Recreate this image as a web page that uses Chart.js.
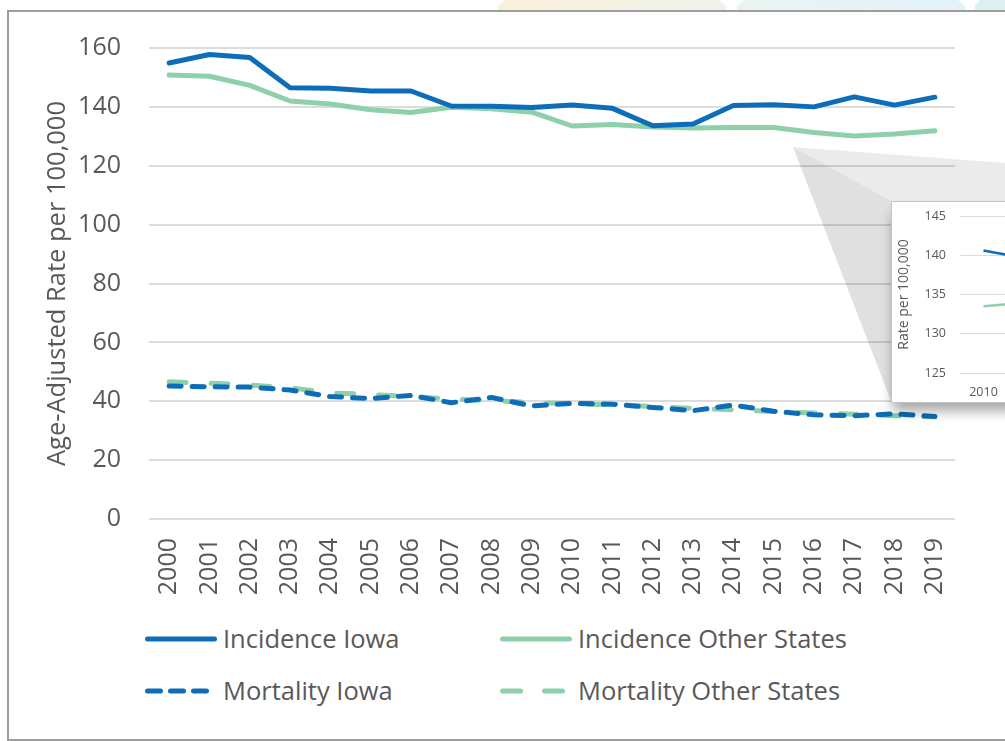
<!DOCTYPE html>
<html>
<head>
<meta charset="utf-8">
<script src="https://cdn.jsdelivr.net/npm/chart.js@4.4.1/dist/chart.umd.min.js"></script>
<style>
html, body { margin: 0; padding: 0; }
body {
    width: 1005px; height: 741px; overflow: hidden; position: relative;
    background: #fff; font-family: "Open Sans", sans-serif; color: #595959;
}
.tab { position: absolute; top: 0; height: 10px; }
.frame {
    position: absolute; left: 7px; top: 10px; width: 1100px; height: 731px;
    border: 2px solid #9d9d9d; box-sizing: border-box;
}
#main-wrap { position: absolute; left: 0; top: 0; width: 1005px; height: 615px; }
.callout { position: absolute; left: 0; top: 0; width: 1005px; height: 741px; }
#zoom-box {
    position: absolute; left: 891px; top: 201px; width: 600px; height: 202px;
    box-sizing: border-box; border: 1px solid #c4c4c4; background: #fff;
    box-shadow: 0 10px 12px -2px rgba(0,0,0,0.35);
}
#zoom-box canvas { position: absolute; left: 0; top: 0; }
.legend-item {
    position: absolute; height: 36px; display: flex; align-items: center;
    font-size: 25.5px; line-height: 1; white-space: nowrap;
}
.legend-item svg { margin-right: 3px; }
</style>
</head>
<body>
<div class="tab" style="left:498px;width:228px;background:linear-gradient(90deg,#faf1da,#eef3ea);clip-path:polygon(3% 0,97% 0,100% 60%,100% 100%,0 100%,0 60%);"></div>
<div class="tab" style="left:737px;width:228px;background:linear-gradient(90deg,#e9f3f2,#e2f2f9);clip-path:polygon(3% 0,97% 0,100% 60%,100% 100%,0 100%,0 60%);"></div>
<div class="tab" style="left:975px;width:60px;background:#ddf0ef;clip-path:polygon(8% 0,100% 0,100% 100%,0 100%,0 60%);"></div>
<div class="frame"></div>

<div id="main-wrap"><canvas id="main" width="1005" height="615"></canvas></div>

<div class="callout" style="background:rgba(0,0,0,0.08);clip-path:polygon(793px 147px,1005px 163px,1005px 201px,891px 201px);"></div>
<div class="callout" style="background:rgba(0,0,0,0.12);clip-path:polygon(793px 147px,891px 201px,891px 401px);"></div>

<div id="zoom-box"><canvas id="inset" width="598" height="200"></canvas></div>

<div id="legend"></div>

<script>
const years = ['2000','2001','2002','2003','2004','2005','2006','2007','2008','2009',
               '2010','2011','2012','2013','2014','2015','2016','2017','2018','2019'];
const incidenceIowa  = [154.9, 157.8, 156.8, 146.5, 146.3, 145.4, 145.4, 140.3, 140.2, 139.8,
                        140.6, 139.5, 133.6, 134.2, 140.5, 140.7, 140.0, 143.4, 140.6, 143.3];
const incidenceOther = [150.8, 150.4, 147.3, 142.0, 141.0, 139.0, 138.1, 139.9, 139.4, 138.2,
                        133.5, 134.0, 133.2, 132.8, 133.0, 133.0, 131.3, 130.1, 130.8, 131.9];
const mortalityIowa  = [45.2, 44.9, 44.8, 43.8, 41.6, 40.9, 42.0, 39.5, 41.3, 38.4,
                        39.3, 39.0, 37.9, 36.8, 38.7, 36.6, 35.4, 35.1, 35.7, 34.8];
const mortalityOther = [46.6, 46.1, 45.5, 44.6, 42.8, 42.3, 41.6, 40.7, 40.2, 39.6,
                        39.1, 38.7, 38.2, 37.6, 37.1, 36.5, 36.0, 35.6, 35.1, 34.7];
const yTicks = [0, 20, 40, 60, 80, 100, 120, 140, 160];
const insetYears = years.slice(10);
const insetTicks = [125, 130, 135, 140, 145];

const blue = '#0d6db9';
const green = '#8ed0a9';
const grey = '#595959';
const font = 'Open Sans';

const series = [
    { label: 'Incidence Iowa', data: incidenceIowa, color: blue, dash: [] },
    { label: 'Incidence Other States', data: incidenceOther, color: green, dash: [] },
    { label: 'Mortality Iowa', data: mortalityIowa, color: blue, dash: [12, 11] },
    { label: 'Mortality Other States', data: mortalityOther, color: green, dash: [17, 25] }
];

// main chart
new Chart(document.querySelector('#main'), {
    type: 'line',
    data: {
        labels: years,
        datasets: series.map(s => ({
            label: s.label,
            data: s.data,
            borderColor: s.color,
            borderWidth: 5,
            borderDash: s.dash,
            borderCapStyle: 'round',
            borderJoinStyle: 'round',
            pointRadius: 0,
            tension: 0,
            fill: false
        }))
    },
    options: {
        responsive: false,
        animation: false,
        layout: { padding: { top: 48, right: 50, bottom: 16, left: 0 } },
        plugins: { legend: { display: false }, tooltip: { enabled: false } },
        scales: {
            x: {
                offset: true,
                grid: { display: false, drawTicks: false },
                border: { display: false },
                ticks: {
                    font: { family: font, size: 25 }, color: grey,
                    minRotation: 90, maxRotation: 90, autoSkip: false, padding: 19
                },
                afterFit: s => { s.height = 80; }
            },
            y: {
                min: 0, max: 160,
                afterBuildTicks: s => { s.ticks = yTicks.map(v => ({ value: v })); },
                grid: { color: '#dcdcdc', lineWidth: 2, drawTicks: false },
                border: { display: false },
                ticks: { font: { family: font, size: 25 }, color: grey, padding: 28 },
                title: {
                    display: true, text: 'Age-Adjusted Rate per 100,000',
                    font: { family: font, size: 25.5 }, color: grey, padding: { top: 42 }
                },
                afterFit: s => { s.width = 149; }
            }
        }
    }
});

// zoomed inset, 2010 onwards
new Chart(document.querySelector('#inset'), {
    type: 'line',
    data: {
        labels: insetYears,
        datasets: series.slice(0, 2).map(s => ({
            label: s.label,
            data: s.data.slice(10),
            borderColor: s.color,
            borderWidth: 2.5,
            pointRadius: 0,
            tension: 0
        }))
    },
    options: {
        responsive: false,
        animation: false,
        layout: { padding: { top: 14, right: 60, bottom: 0, left: 0 } },
        plugins: { legend: { display: false }, tooltip: { enabled: false } },
        scales: {
            x: {
                offset: true,
                grid: { display: false, drawTicks: false },
                border: { display: false },
                ticks: { font: { family: font, size: 12.5 }, color: grey, maxRotation: 0, autoSkip: false, padding: 12 },
                afterFit: s => { s.height = 29; }
            },
            y: {
                min: 125, max: 145,
                afterBuildTicks: s => { s.ticks = insetTicks.map(v => ({ value: v })); },
                grid: { color: '#dcdcdc', lineWidth: 1, drawTicks: true, tickLength: 12, tickColor: 'rgba(0,0,0,0)' },
                border: { display: false },
                ticks: { font: { family: font, size: 12.5 }, color: grey, padding: 2 },
                title: {
                    display: true, text: 'Rate per 100,000',
                    font: { family: font, size: 14 }, color: grey, padding: { top: 4 }
                },
                afterFit: s => { s.width = 68; }
            }
        }
    }
});

// legend, two columns by two rows
const legend = document.querySelector('#legend');
const cols = [142, 497];
const rows = [621, 673];
series.forEach((s, i) => {
    const item = document.createElement('div');
    item.className = 'legend-item';
    item.style.left = cols[i % 2] + 'px';
    item.style.top = rows[Math.floor(i / 2)] + 'px';
    const dash = s.dash.length ? (s.dash[0] + 1) + ' ' + (s.dash[1] - 1) : 'none';
    item.innerHTML =
        '<svg width="78" height="10"><line x1="5.5" y1="5" x2="72.5" y2="5" stroke="' + s.color +
        '" stroke-width="5" stroke-linecap="round" stroke-dasharray="' + dash + '"/></svg>' +
        '<span>' + s.label + '</span>';
    legend.appendChild(item);
});
</script>
</body>
</html>
